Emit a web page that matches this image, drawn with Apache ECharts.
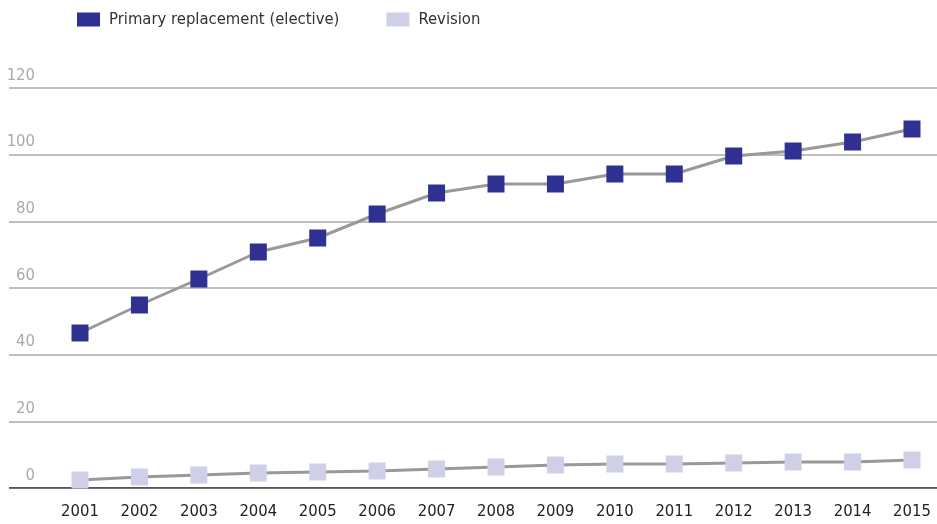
<!DOCTYPE html>
<html>
<head>
<meta charset="utf-8">
<script src="https://cdn.jsdelivr.net/npm/echarts@6/dist/echarts.min.js"></script>
<style>html,body{margin:0;padding:0;background:#fff}#c{width:937px;height:524px}</style>
</head>
<body>
<div id="c"></div>
<script>
const years = ['2001','2002','2003','2004','2005','2006','2007','2008','2009','2010','2011','2012','2013','2014','2015'];
const primary = [46.5, 54.9, 62.7, 70.8, 75.0, 82.2, 88.5, 91.2, 91.2, 94.2, 94.2, 99.6, 101.1, 103.8, 107.7];
const revision = [2.4, 3.3, 3.9, 4.5, 4.8, 5.1, 5.7, 6.3, 6.9, 7.2, 7.2, 7.5, 7.8, 7.8, 8.4];
const yTicks = [0, 20, 40, 60, 80, 100, 120];

const FONT = "'Liberation Sans Narrow','DejaVu Sans Condensed','Noto Sans',sans-serif";
const chart = echarts.init(document.getElementById('c'));
chart.setOption({
  animation: false,
  textStyle: {fontFamily: FONT},
  legend: {
    left: 72, top: 6,
    icon: 'rect', itemWidth: 23, itemHeight: 14, itemGap: 47,
    textStyle: {fontFamily: FONT, fontSize: 16.5, color: '#333', padding: [0,0,0,4]},
    data: ['Primary replacement (elective)', 'Revision']
  },
  grid: [
    {left: 9, right: 0, top: 88, bottom: 36},
    {left: 80, right: 25, top: 88, bottom: 36}
  ],
  xAxis: [
    {gridIndex: 0, type: 'value', show: false, min: 0, max: 1},
    {gridIndex: 1, type: 'category', data: years, boundaryGap: false,
     axisLine: {show: false}, axisTick: {show: false},
     axisLabel: {fontFamily: FONT, fontSize: 16.5, color: '#222', margin: 15}}
  ],
  yAxis: [
    {gridIndex: 0, type: 'value', min: yTicks[0], max: yTicks[yTicks.length-1], interval: 20,
     axisLine: {show: false}, axisTick: {show: false},
     splitLine: {lineStyle: {color: '#aaa', width: 1.5}},
     axisLabel: {inside: true, align: 'right', verticalAlign: 'bottom', margin: 26,
       padding: [0,0,4,0], fontFamily: FONT, fontSize: 16.5, color: '#aaa'}},
    {gridIndex: 1, type: 'value', min: 0, max: 120, interval: 20, show: false}
  ],
  series: [
    {type: 'line', name: 'base', xAxisIndex: 0, yAxisIndex: 0, data: [[0,0],[1,0]],
     symbol: 'none', lineStyle: {color: '#333', width: 1.5}, silent: true, legendHoverLink: false},
    {type: 'line', name: 'Primary replacement (elective)', xAxisIndex: 1, yAxisIndex: 1, data: primary,
     symbol: 'rect', symbolSize: 17, showAllSymbol: true,
     itemStyle: {color: '#2e3192'}, lineStyle: {color: '#999', width: 3}},
    {type: 'line', name: 'Revision', xAxisIndex: 1, yAxisIndex: 1, data: revision,
     symbol: 'rect', symbolSize: 17, showAllSymbol: true,
     itemStyle: {color: '#d0cfe8'}, lineStyle: {color: '#999', width: 3}}
  ]
});
</script>
</body>
</html>
